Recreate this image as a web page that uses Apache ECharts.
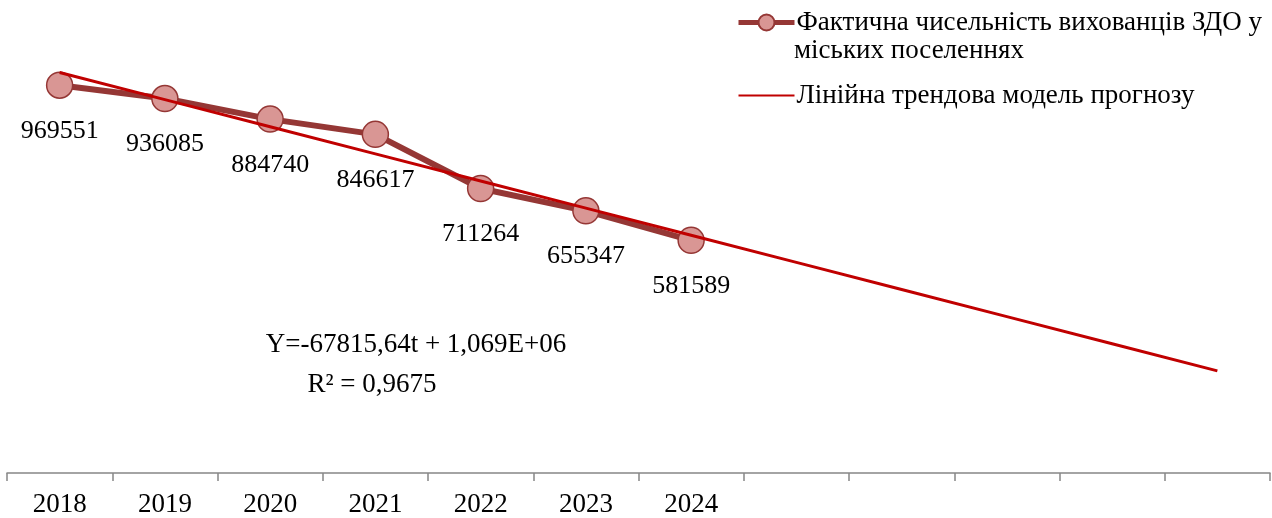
<!DOCTYPE html>
<html><head><meta charset="utf-8">
<script src="https://cdn.jsdelivr.net/npm/echarts@6/dist/echarts.min.js"></script>
<style>html,body{margin:0;padding:0;background:#fff}#c{width:1272px;height:518px}</style>
</head><body><div id="c"></div>
<script>
var categories = ['2018','2019','2020','2021','2022','2023','2024','','','','',''];
var actualValues = [969551, 936085, 884740, 846617, 711264, 655347, 581589];
var trendValues = [1001184, 933369, 865553, 797737, 729922, 662106, 594291, 526475, 458659, 390844, 323028, 255212];
var seriesNames = ['Фактична чисельність вихованців ЗДО у', 'Лінійна трендова модель прогнозу'];
var legendSecondLine = 'міських поселеннях';
var equationText = 'Y=-67815,64t + 1,069E+06';
var r2Text = 'R² = 0,9675';

var FONT = '"Liberation Serif", "Times New Roman", serif';
var chart = echarts.init(document.getElementById('c'));
chart.setOption({
  animation: false,
  backgroundColor: '#fff',
  grid: {left: 7, right: 2, top: 33, bottom: 43, containLabel: false},
  legend: {
    orient: 'vertical', left: 736, top: 9, padding: 0,
    itemWidth: 56, itemHeight: 20, itemGap: 46,
    textStyle: {fontFamily: FONT, fontSize: 27, color: '#000', padding: [0,0,0,-3]},
    data: [
      {name: seriesNames[0], lineStyle: {width: 5}},
      {name: seriesNames[1], itemStyle: {color: 'rgba(0,0,0,0)', borderWidth: 0, opacity: 0}}
    ]
  },
  xAxis: {
    type: 'category', data: categories, boundaryGap: true,
    axisLine: {lineStyle: {color: '#868686', width: 1.5}},
    axisTick: {show: true, length: 8, lineStyle: {color: '#868686', width: 1.5}},
    axisLabel: {fontFamily: FONT, fontSize: 27, color: '#000', margin: 18, interval: 0},
    splitLine: {show: false}
  },
  yAxis: {
    type: 'value', min: 0, max: 1100000, show: false, splitLine: {show: false}
  },
  series: [
    {
      name: seriesNames[0], type: 'line', data: actualValues, z: 3,
      symbol: 'circle', symbolSize: 26,
      lineStyle: {color: '#953735', width: 6},
      itemStyle: {color: '#D99694', borderColor: '#953735', borderWidth: 1.5},
      label: {show: true, position: 'bottom', distance: 19, fontFamily: FONT, fontSize: 26, color: '#000'}
    },
    {
      name: seriesNames[1], type: 'line', data: trendValues, z: 4,
      symbol: 'none', lineStyle: {color: '#C00000', width: 3},
      itemStyle: {color: '#C00000'}
    }
  ],
  graphic: [
    {type: 'text', x: 794, y: 51, style: {text: legendSecondLine, font: '27px ' + FONT, fill: '#000', verticalAlign: 'middle'}},
    {type: 'text', x: 416, y: 345, style: {text: equationText, font: '27px ' + FONT, fill: '#000', align: 'center', verticalAlign: 'middle'}},
    {type: 'text', x: 372, y: 385, style: {text: r2Text, font: '27px ' + FONT, fill: '#000', align: 'center', verticalAlign: 'middle'}}
  ]
});
</script>
</body></html>
